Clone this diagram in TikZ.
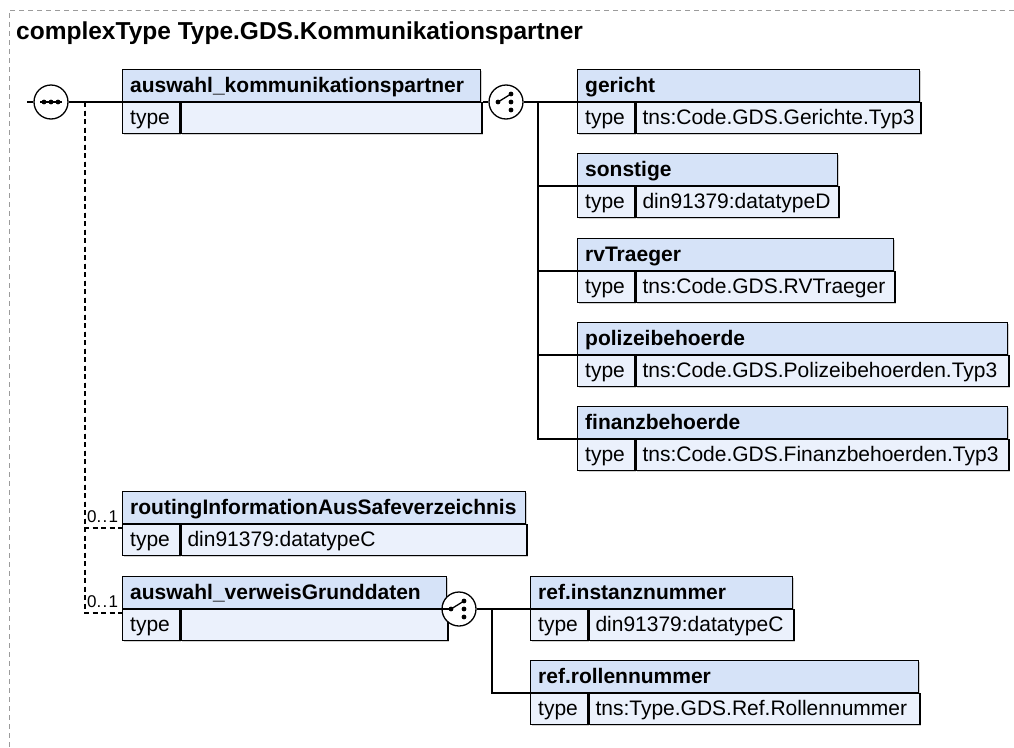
\documentclass[tikz,border=0pt]{standalone}
\usepackage{fontspec}
\setmainfont{Liberation Sans}
\usetikzlibrary{calc,shadows}
\definecolor{hdrc}{RGB}{214,227,248}
\definecolor{rowc}{RGB}{235,241,252}
\definecolor{framec}{RGB}{155,155,155}
\tikzset{
  x=1pt, y=-1pt,
  shad/.style={drop shadow={shadow xshift=1.2pt, shadow yshift=-1.2pt, fill=black!18, opacity=1}},
  hdrbox/.style={draw=black, line width=1.3pt, fill=hdrc, inner sep=0pt, minimum height=32pt, shad},
  typbox/.style={draw=black, line width=1.3pt, fill=rowc, inner sep=0pt, minimum height=31pt, minimum width=57pt, shad},
  valbox/.style={draw=black, line width=1.3pt, fill=rowc, inner sep=0pt, minimum height=31pt, shad},
  hlab/.style={inner sep=0pt, font=\fontsize{21}{25}\selectfont\bfseries},
  tlab/.style={inner sep=0pt, font=\fontsize{21}{25}\selectfont},
  occ/.style={inner sep=0pt, font=\fontsize{17}{20}\selectfont},
  symc/.style={circle, draw=black, line width=1.3pt, fill=white, minimum size=34pt, inner sep=0pt},
  conn/.style={draw=black, line width=1.3pt},
  optconn/.style={draw=black, line width=1.3pt, dash pattern=on 5pt off 3.5pt},
  frame/.style={draw=framec, line width=1pt, dash pattern=on 5pt off 4pt},
}
\newcommand\xel[6]{%
  \pgfmathsetmacro\bw{#4}%
  \pgfmathsetmacro\vw{#4-57}%
  \node[hdrbox, minimum width=\bw pt, anchor=south west] (#1) at (#2,#3) {};
  \node[typbox, anchor=north west] (#1-t) at (#1.south west) {};
  \node[valbox, minimum width=\vw pt, anchor=north west] (#1-v) at (#1-t.north east) {};
  \node[hlab, anchor=base west] (#1-hl) at ($(#1.south west)+(8,-10)$) {#5};
  \node[tlab, anchor=base west] (#1-tl) at ($(#1.south west)+(8,22)$) {type};
  \node[tlab, anchor=base west] (#1-vl) at ($(#1-v.north west)+(7,22)$) {#6};
}
\begin{document}
\begin{tikzpicture}
\useasboundingbox (0,0) rectangle (1014,747);
\draw[frame] (1014,10) -- (9,10) -- (9,747);
\node[anchor=base west, inner sep=0pt, font=\fontsize{24.5}{29}\selectfont\bfseries] (title) at (16,39) {complexType Type.GDS.Kommunikationspartner};

% elements
\xel{ak}{122}{102}{358}{auswahl\_kommunikationspartner}{}
\xel{ger}{577}{102}{342}{gericht}{tns:Code.GDS.Gerichte.Typ3}
\xel{son}{577}{186}{260}{sonstige}{din91379:datatypeD}
\xel{rvt}{577}{271}{316}{rvTraeger}{tns:Code.GDS.RVTraeger}
\xel{pol}{577}{355}{430}{polizeibehoerde}{tns:Code.GDS.Polizeibehoerden.Typ3}
\xel{fin}{577}{439}{430}{finanzbehoerde}{tns:Code.GDS.Finanzbehoerden.Typ3}
\xel{rt}{122}{524}{403}{routingInformationAusSafeverzeichnis}{din91379:datatypeC}
\xel{av}{122}{609}{324}{auswahl\_verweisGrunddaten}{}
\xel{ri}{530}{609}{262}{ref.instanznummer}{din91379:datatypeC}
\xel{rr}{530}{693}{388}{ref.rollennummer}{tns:Type.GDS.Ref.Rollennummer}

% compositor symbols
\node[symc] (seq) at (51,102) {};
\node[symc] (ch1) at (506,102) {};
\node[symc] (ch2) at (459,609) {};

% sequence glyph
\draw[conn] ($(seq.center)+(-11,0)$) -- ($(seq.center)+(11,0)$);
\foreach \dx in {-7,0,7} \fill ($(seq.center)+(\dx,0)$) circle (2.4pt);
% choice glyphs
\foreach \c in {ch1,ch2} {
  \draw[conn] ($(\c.center)+(-8,0)$) -- ($(\c.center)+(5,-8)$);
  \fill ($(\c.center)+(-8,0)$) circle (2.4pt);
  \foreach \dy in {-8,0,8} \fill ($(\c.center)+(5,\dy)$) circle (2.4pt);
}

% connectors
\coordinate (start) at (27,102);
\coordinate (dj) at (85,102);
\draw[conn] (start) -- (seq.west);
\draw[conn] (seq.east) -- (ak-t.north west);
\draw[optconn] (dj) |- ($(rt-t.north west)+(0,4)$);
\draw[optconn] (dj) |- ($(av-t.north west)+(0,4)$);
\node[occ, anchor=base west] (o1) at (87,522) {0.\kern1.2pt.\kern1.2pt1};
\node[occ, anchor=base west] (o2) at (87,607) {0.\kern1.2pt.\kern1.2pt1};

\draw[conn] (ak-v.north east) -- (ch1.west);
\coordinate (j1) at (538,102);
\draw[conn] (ch1.east) -- (ger-t.north west);
\draw[conn] (j1) |- (son-t.north west);
\draw[conn] (j1) |- (rvt-t.north west);
\draw[conn] (j1) |- (pol-t.north west);
\draw[conn] (j1) |- (fin-t.north west);

\draw[conn] (av-v.north east) -- (ch2.west);
\coordinate (j2) at (492,609);
\draw[conn] (ch2.east) -- (ri-t.north west);
\draw[conn] (j2) |- (rr-t.north west);
\end{tikzpicture}
\end{document}
